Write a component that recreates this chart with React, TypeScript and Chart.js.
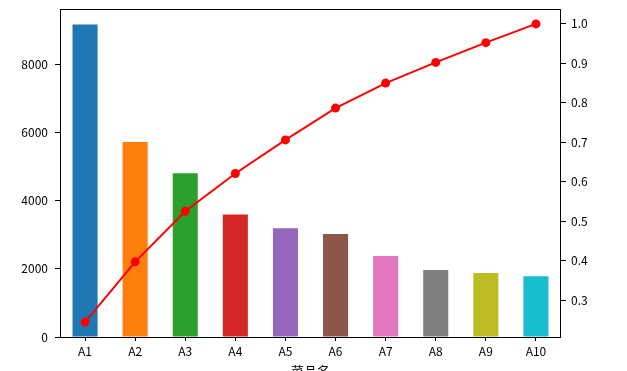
import React, { useEffect, useRef } from "react";
import { Chart, registerables } from "chart.js";

Chart.register(...registerables);

const categories = ["A1", "A2", "A3", "A4", "A5", "A6", "A7", "A8", "A9", "A10"];
const profits = [9173, 5729, 4811, 3594, 3195, 3026, 2378, 1970, 1877, 1782];
const barColors = ["#1f77b4", "#ff7f0e", "#2ca02c", "#d62728", "#9467bd", "#8c564b", "#e377c2", "#7f7f7f", "#bcbd22", "#17becf"];
const leftTicks = [0, 2000, 4000, 6000, 8000];
const rightTicks = [0.3, 0.4, 0.5, 0.6, 0.7, 0.8, 0.9, 1.0];
const xTitle = "菜品名";

const total = profits.reduce((a, b) => a + b, 0);
const cumRatio: number[] = [];
profits.reduce((acc, v) => {
  const s = acc + v;
  cumRatio.push(s / total);
  return s;
}, 0);

const FONT = "'Noto Sans CJK SC', 'DejaVu Sans', sans-serif";
const W = 627;
const H = 390;
const AREA_LEFT = 60;
const AREA_RIGHT = 561;
const AREA_TOP = 9;
const AREA_BOTTOM = 337;

const framePlugin = {
  id: "frame",
  afterDatasetsDraw(chart: any) {
    const { ctx, chartArea } = chart;
    ctx.save();
    ctx.strokeStyle = "#000";
    ctx.lineWidth = 1;
    ctx.strokeRect(
      Math.round(chartArea.left) + 0.5,
      Math.round(chartArea.top) + 0.5,
      Math.round(chartArea.right - chartArea.left) - 1,
      Math.round(chartArea.bottom - chartArea.top)
    );
    ctx.restore();
  },
};

function noPad(scale: any) {
  scale.paddingTop = 0;
  scale.paddingBottom = 0;
  scale.paddingLeft = 0;
  scale.paddingRight = 0;
}

export default function App() {
  const ref = useRef<HTMLCanvasElement | null>(null);

  useEffect(() => {
    if (!ref.current) return;
    const rMin = Math.min(...cumRatio);
    const rMax = Math.max(...cumRatio);
    const rSpan = rMax - rMin;
    const chart = new Chart(ref.current, {
      type: "bar",
      data: {
        labels: categories,
        datasets: [
          {
            type: "line",
            label: "cum",
            data: cumRatio,
            yAxisID: "y1",
            borderColor: "#ff0000",
            backgroundColor: "#ff0000",
            borderWidth: 2,
            pointRadius: 4.5,
            pointBackgroundColor: "#ff0000",
            pointBorderWidth: 0,
            tension: 0,
            order: 0,
          } as any,
          {
            type: "bar",
            label: "profit",
            data: profits,
            yAxisID: "y",
            backgroundColor: barColors,
            borderWidth: 0,
            barPercentage: 0.5,
            categoryPercentage: 1,
            order: 1,
          },
        ],
      },
      options: {
        animation: false,
        responsive: false,
        maintainAspectRatio: false,
        layout: { padding: { top: AREA_TOP, left: 0, right: 0, bottom: 0 } },
        plugins: { legend: { display: false }, tooltip: { enabled: false } },
        scales: {
          x: {
            offset: true,
            grid: { display: true, drawOnChartArea: false, drawTicks: true, tickLength: 4, tickColor: "#000", offset: false },
            border: { display: false },
            ticks: { color: "#000", font: { family: FONT, size: 12 }, padding: 3, maxRotation: 0, autoSkip: false },
            title: { display: true, text: xTitle, color: "#000", font: { family: FONT, size: 13 }, padding: { top: 0, bottom: 11 } },
            afterFit(scale: any) {
              scale.height = H - AREA_BOTTOM;
              noPad(scale);
            },
          },
          y: {
            position: "left",
            min: 0,
            max: Math.max(...profits) * 1.05,
            grid: { display: true, drawOnChartArea: false, drawTicks: true, tickLength: 5, tickColor: "#000" },
            border: { display: false },
            ticks: {
              color: "#000",
              font: { family: FONT, size: 12 },
              padding: 7,
              callback: (v: any) => String(Math.round(Number(v))),
            },
            afterBuildTicks(scale: any) {
              scale.ticks = leftTicks.map((v) => ({ value: v }));
            },
            afterFit(scale: any) {
              scale.width = AREA_LEFT;
              noPad(scale);
            },
          },
          y1: {
            position: "right",
            min: rMin - rSpan * 0.05,
            max: rMax + rSpan * 0.05,
            grid: { display: true, drawOnChartArea: false, drawTicks: true, tickLength: 5, tickColor: "#000" },
            border: { display: false },
            ticks: {
              color: "#000",
              font: { family: FONT, size: 12 },
              padding: 5,
              callback: (v: any) => Number(v).toFixed(1),
            },
            afterBuildTicks(scale: any) {
              scale.ticks = rightTicks.map((v) => ({ value: v }));
            },
            afterFit(scale: any) {
              scale.width = W - AREA_RIGHT;
              noPad(scale);
            },
          },
        },
      },
      plugins: [framePlugin],
    });
    return () => chart.destroy();
  }, []);

  return (
    <div style={{ position: "fixed", left: 0, top: 0, width: W, height: 371, overflow: "hidden", background: "#fff" }}>
      <canvas ref={ref} width={W} height={H} style={{ width: W, height: H, display: "block" }} />
    </div>
  );
}
